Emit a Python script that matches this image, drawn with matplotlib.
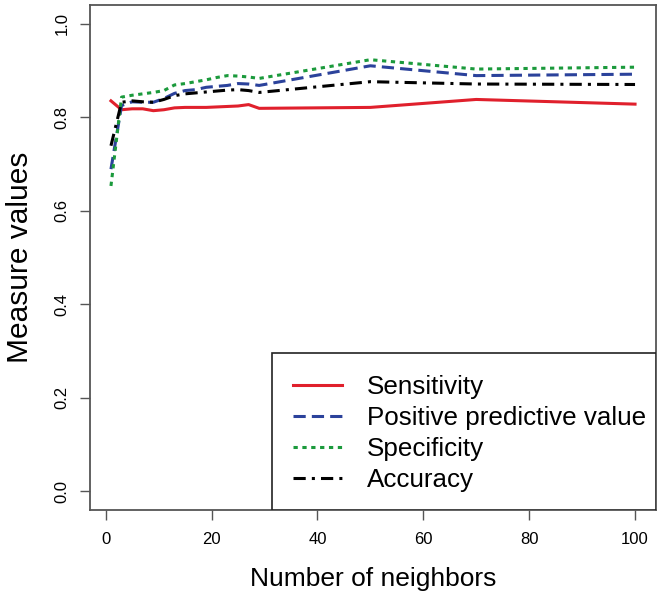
import matplotlib
matplotlib.use("Agg")
import matplotlib.pyplot as plt
from matplotlib.patches import Rectangle

plt.rcParams['font.family'] = ['Liberation Sans', 'DejaVu Sans']

# number of neighbours (k) that were evaluated
neighbors = [1, 3, 5, 7, 9, 11, 13, 15, 17, 19, 21, 23, 25, 27, 29, 50, 70, 100]

sensitivity = [0.835, 0.816, 0.818, 0.818, 0.814, 0.816, 0.820, 0.821, 0.821,
               0.821, 0.822, 0.823, 0.824, 0.827, 0.819, 0.821, 0.838, 0.828]
ppv = [0.689, 0.825, 0.833, 0.832, 0.832, 0.840, 0.851, 0.857, 0.859,
       0.864, 0.866, 0.868, 0.872, 0.871, 0.868, 0.910, 0.889, 0.892]
specificity = [0.653, 0.843, 0.847, 0.850, 0.853, 0.857, 0.869, 0.872, 0.876,
               0.880, 0.885, 0.889, 0.888, 0.886, 0.883, 0.923, 0.903, 0.907]
accuracy = [0.739, 0.832, 0.835, 0.833, 0.832, 0.838, 0.846, 0.850, 0.852,
            0.854, 0.856, 0.858, 0.859, 0.857, 0.853, 0.876, 0.871, 0.870]

labels = ["Sensitivity", "Positive predictive value", "Specificity", "Accuracy"]
xticks = [0, 20, 40, 60, 80, 100]
yticks = [0.0, 0.2, 0.4, 0.6, 0.8, 1.0]

fig = plt.figure(figsize=(6.64, 6.0), dpi=100)
ax = fig.add_axes([90 / 664, 1 - 510 / 600, 566 / 664, 505 / 600])

lw = 2.2
ax.plot(neighbors, sensitivity, color='#e0202c', lw=lw, label=labels[0])
ax.plot(neighbors, ppv, color='#2b429b', lw=lw, linestyle=(0, (4, 2)), label=labels[1])
ax.plot(neighbors, specificity, color='#1b9a3c', lw=lw, linestyle=(0, (1.4, 1.5)), label=labels[2])
ax.plot(neighbors, accuracy, color='black', lw=lw, linestyle=(0, (4, 2, 1, 2)), label=labels[3])

# R style axes: 4% padding around the data range
ax.set_xlim(1 - 0.04 * 99, 100 + 0.04 * 99)
ax.set_ylim(-0.04, 1.04)
ax.set_xticks(xticks)
ax.set_yticks(yticks)
ax.set_xticklabels([str(t) for t in xticks])
ax.set_yticklabels(['%.1f' % t for t in yticks], rotation=90, va='center')
ax.tick_params(axis='x', length=7.5, width=1, color='#555555', labelsize=12, pad=8)
ax.tick_params(axis='y', length=7.5, width=1, color='#555555', labelsize=12, pad=7)
for sp in ax.spines.values():
    sp.set_color('#555555')
    sp.set_linewidth(1.3)

ax.set_xlabel("Number of neighbors", fontsize=19, va='center')
ax.xaxis.set_label_coords(0.5, (510 - 579) / 505)
ax.set_ylabel("Measure values", fontsize=21.5, va='center')
ax.yaxis.set_label_coords((20 - 90) / 566, 0.5)

# legend box in the bottom right corner, like R's legend("bottomright")
box_x = (272 - 90) / 566
box_h = (510 - 353) / 505
ax.add_patch(Rectangle((box_x, 0), 1 - box_x, box_h, transform=ax.transAxes,
                       facecolor='white', edgecolor='#222222', lw=1.2, zorder=5))
leg = ax.legend(loc='upper left', bbox_to_anchor=((293 - 90) / 566, (510 - 375) / 505),
                frameon=False, fontsize=18.7, borderpad=0, borderaxespad=0,
                handlelength=1.9, handletextpad=0.95, labelspacing=0.27)
leg.set_zorder(6)

fig.savefig("out.png", dpi=100)
